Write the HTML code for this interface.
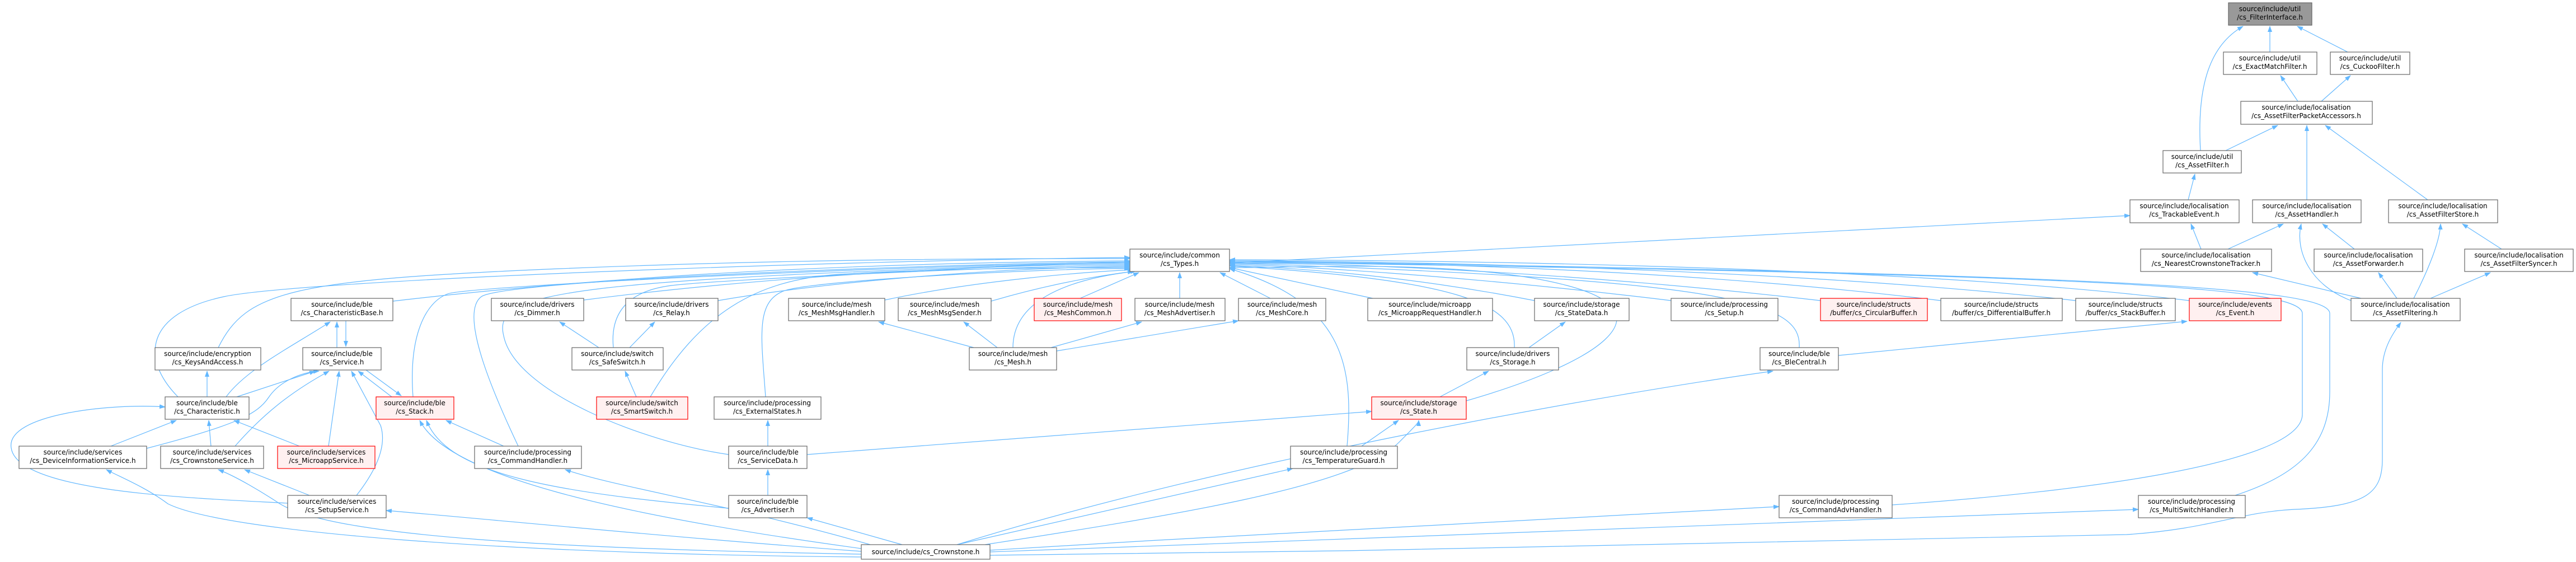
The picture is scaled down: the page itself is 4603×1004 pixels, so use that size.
<!DOCTYPE html>
<html><head><meta charset="utf-8"><style>
html,body{margin:0;padding:0;background:#fff;}
svg{display:block;}
text{font-family:"DejaVu Sans","Liberation Sans",sans-serif;font-size:12px;fill:#000;}
.n{fill:#fff;stroke:#666;stroke-width:1.2;}
.r{fill:#fff0f0;stroke:#ff0000;stroke-width:1.2;}
.g{fill:#999;stroke:#666;stroke-width:1.2;}
.e{fill:none;stroke:#63b8ff;stroke-width:1.2;marker-end:url(#a);}
</style></head><body>
<svg width="4603" height="1004" viewBox="0 0 4603 1004" xmlns="http://www.w3.org/2000/svg">
<defs><marker id="a" markerUnits="userSpaceOnUse" markerWidth="11" markerHeight="8" refX="10" refY="4" orient="auto"><path d="M0,0 L11,4 L0,8 z" fill="#63b8ff"/></marker></defs>
<g>
<path class="e" d="M4056,93 L4056,47"/>
<path class="e" d="M4195,93 L4105,47"/>
<path class="e" d="M3932,269 C3925,150 3950,80 4008,47"/>
<path class="e" d="M4106,181 L4075,135"/>
<path class="e" d="M4148,181 L4200,135"/>
<path class="e" d="M3977,269 L4070,224"/>
<path class="e" d="M4122,357 L4122,224"/>
<path class="e" d="M4338,357 L4155,224"/>
<path class="e" d="M3910,357 L3922,311"/>
<path class="e" d="M3933,445 L3915,400"/>
<path class="e" d="M3981,445 L4080,400"/>
<path class="e" d="M4207,445 L4150,400"/>
<path class="e" d="M4470,445 L4400,400"/>
<path class="e" d="M4201,537 C4130,510 4100,450 4112,400"/>
<path class="e" d="M4313,533 C4340,480 4360,430 4361,400"/>
<path class="e" d="M4219,533 L4025,487"/>
<path class="e" d="M4283,533 L4250,487"/>
<path class="e" d="M4343,533 L4450,487"/>
<path class="e" d="M1769,992 C2500,985 3500,965 3800,955 C3950,945 4000,915 4100,910 C4230,905 4257,880 4257,820 L4257,660 C4257,620 4280,590 4290,576"/>
<path class="e" d="M1769,986 C2500,960 3400,925 3821,910"/>
<path class="e" d="M1769,983 C2300,950 2900,920 3179,905"/>
<path class="e" d="M1710,973 C2200,820 2900,700 3168,663"/>
<path class="e" d="M1760,973 C2100,920 2420,870 2500,790 C2530,760 2535,755 2535,751"/>
<path class="e" d="M1710,973 L2310,837"/>
<path class="e" d="M1612,973 L1442,925"/>
<path class="e" d="M1555,973 C1300,900 1100,870 1010,839"/>
<path class="e" d="M1539,980 C1100,920 800,850 750,751"/>
<path class="e" d="M1302,908 C1000,880 800,850 762,751"/>
<path class="e" d="M1539,985 C1200,960 900,930 690,912"/>
<path class="e" d="M1539,990 C1000,980 600,960 500,900 C470,880 420,850 390,839"/>
<path class="e" d="M1539,995 C900,990 400,950 300,900 C260,870 210,850 190,839"/>
<path class="e" d="M700,709 L640,663"/>
<path class="e" d="M654,661 L717,707"/>
<path class="e" d="M618,573 L618,619"/>
<path class="e" d="M602,621 L602,575"/>
<path class="e" d="M404,709 C440,660 520,620 590,575"/>
<path class="e" d="M370,709 L370,663"/>
<path class="e" d="M423,709 L563,663"/>
<path class="e" d="M198,797 L315,751"/>
<path class="e" d="M262,801 C420,760 460,740 480,710 C500,680 540,665 570,663"/>
<path class="e" d="M377,797 L373,751"/>
<path class="e" d="M420,797 C470,740 520,700 588,663"/>
<path class="e" d="M535,797 L418,751"/>
<path class="e" d="M587,797 L606,663"/>
<path class="e" d="M553,885 L437,839"/>
<path class="e" d="M637,885 C680,830 690,790 680,760 L628,663"/>
<path class="e" d="M514,899 C350,890 30,880 20,800 C10,740 200,720 295,727"/>
<path class="e" d="M900,797 L797,751"/>
<path class="e" d="M1070,621 L1000,575"/>
<path class="e" d="M1125,621 L1170,575"/>
<path class="e" d="M1137,709 L1117,663"/>
<path class="e" d="M1740,621 L1570,575"/>
<path class="e" d="M1782,621 L1722,575"/>
<path class="e" d="M1878,621 L2040,575"/>
<path class="e" d="M1888,627 L2213,573"/>
<path class="e" d="M2732,621 L2797,575"/>
<path class="e" d="M2573,709 L2660,663"/>
<path class="e" d="M2433,797 L2499,751"/>
<path class="e" d="M1372,797 L1372,751"/>
<path class="e" d="M1442,812 L2451,735"/>
<path class="e" d="M1372,885 L1372,839"/>
<path class="e" d="M3285,635 L3908,574"/>
<!-- to Types -->
<path class="e" d="M702,538 C1200,480 1700,468 2019,466"/>
<path class="e" d="M390,621 C440,520 520,500 1000,480 S1900,462 2019,462"/>
<path class="e" d="M318,709 C250,640 260,560 400,530 S1500,465 2019,460"/>
<path class="e" d="M738,709 C730,600 760,540 800,525 S1700,470 2019,470"/>
<path class="e" d="M1043,536 C1400,490 1800,472 2019,472"/>
<path class="e" d="M1283,537 C1500,500 1800,478 2019,476"/>
<path class="e" d="M1096,621 C1090,560 1120,520 1200,510 S1800,475 2019,474"/>
<path class="e" d="M1162,709 C1250,560 1350,500 1500,490 S1900,478 2019,478"/>
<path class="e" d="M1581,536 C1750,500 1950,485 2025,482"/>
<path class="e" d="M1771,538 C1900,500 2000,488 2030,484"/>
<path class="e" d="M1930,533 L2035,487"/>
<path class="e" d="M2108,533 L2108,487"/>
<path class="e" d="M2270,533 L2180,487"/>
<path class="e" d="M1810,621 C1810,540 1900,500 2025,485"/>
<path class="e" d="M1368,709 C1360,600 1350,540 1400,520 S1900,478 2019,480"/>
<path class="e" d="M1302,812 C1150,790 920,700 900,600 C880,520 1000,500 2019,468"/>
<path class="e" d="M926,797 C880,700 820,560 860,530 S1700,470 2019,468"/>
<path class="e" d="M2407,797 C2420,650 2400,540 2197,480"/>
<path class="e" d="M2620,716 C2850,650 2990,560 2800,510 S2300,480 2197,478"/>
<path class="e" d="M2706,621 C2710,540 2600,500 2197,475"/>
<path class="e" d="M2453,533 L2197,478"/>
<path class="e" d="M2742,537 C2500,490 2300,478 2197,474"/>
<path class="e" d="M2986,537 C2600,490 2300,475 2197,472"/>
<path class="e" d="M3253,537 C2800,485 2400,470 2197,470"/>
<path class="e" d="M3468,537 C3000,480 2500,468 2197,468"/>
<path class="e" d="M3709,537 C3200,480 2500,466 2197,466"/>
<path class="e" d="M3912,537 C3400,475 2600,465 2197,464"/>
<path class="e" d="M3215,621 C3220,540 3100,500 2197,470"/>
<path class="e" d="M3381,902 C3700,880 4114,830 4114,740 L4114,560 C4114,510 3700,490 2197,468"/>
<path class="e" d="M3994,885 C4100,850 4163,800 4163,700 L4163,560 C4163,515 3800,490 2197,466"/>
<path class="e" d="M2197,470 L3806,385"/>
</g>
<g>
<rect class="g" x="3982" y="5" width="149" height="40"/><text x="4056" y="20" text-anchor="middle">source/include/util</text><text x="4056" y="35" text-anchor="middle">/cs_FilterInterface.h</text>
<rect class="n" x="3973" y="93" width="167" height="40"/><text x="4056" y="108" text-anchor="middle">source/include/util</text><text x="4056" y="123" text-anchor="middle">/cs_ExactMatchFilter.h</text>
<rect class="n" x="4164" y="93" width="142" height="40"/><text x="4235" y="108" text-anchor="middle">source/include/util</text><text x="4235" y="123" text-anchor="middle">/cs_CuckooFilter.h</text>
<rect class="n" x="4004" y="181" width="235" height="41"/><text x="4121" y="196" text-anchor="middle">source/include/localisation</text><text x="4121" y="211" text-anchor="middle">/cs_AssetFilterPacketAccessors.h</text>
<rect class="n" x="3865" y="269" width="140" height="40"/><text x="3935" y="284" text-anchor="middle">source/include/util</text><text x="3935" y="299" text-anchor="middle">/cs_AssetFilter.h</text>
<rect class="n" x="3806" y="357" width="195" height="41"/><text x="3903" y="372" text-anchor="middle">source/include/localisation</text><text x="3903" y="387" text-anchor="middle">/cs_TrackableEvent.h</text>
<rect class="n" x="4025" y="357" width="194" height="41"/><text x="4122" y="372" text-anchor="middle">source/include/localisation</text><text x="4122" y="387" text-anchor="middle">/cs_AssetHandler.h</text>
<rect class="n" x="4268" y="357" width="195" height="41"/><text x="4365" y="372" text-anchor="middle">source/include/localisation</text><text x="4365" y="387" text-anchor="middle">/cs_AssetFilterStore.h</text>
<rect class="n" x="3825" y="445" width="234" height="40"/><text x="3942" y="460" text-anchor="middle">source/include/localisation</text><text x="3942" y="475" text-anchor="middle">/cs_NearestCrownstoneTracker.h</text>
<rect class="n" x="4135" y="445" width="194" height="40"/><text x="4232" y="460" text-anchor="middle">source/include/localisation</text><text x="4232" y="475" text-anchor="middle">/cs_AssetForwarder.h</text>
<rect class="n" x="4404" y="445" width="194" height="40"/><text x="4501" y="460" text-anchor="middle">source/include/localisation</text><text x="4501" y="475" text-anchor="middle">/cs_AssetFilterSyncer.h</text>
<rect class="n" x="4201" y="533" width="195" height="40"/><text x="4298" y="548" text-anchor="middle">source/include/localisation</text><text x="4298" y="563" text-anchor="middle">/cs_AssetFiltering.h</text>
<rect class="n" x="3468" y="533" width="217" height="40"/><text x="3576" y="548" text-anchor="middle">source/include/structs</text><text x="3576" y="563" text-anchor="middle">/buffer/cs_DifferentialBuffer.h</text>
<rect class="n" x="3709" y="533" width="178" height="40"/><text x="3798" y="548" text-anchor="middle">source/include/structs</text><text x="3798" y="563" text-anchor="middle">/buffer/cs_StackBuffer.h</text>
<rect class="r" x="3912" y="533" width="164" height="40"/><text x="3994" y="548" text-anchor="middle">source/include/events</text><text x="3994" y="563" text-anchor="middle">/cs_Event.h</text>
<rect class="n" x="3821" y="885" width="191" height="40"/><text x="3916" y="900" text-anchor="middle">source/include/processing</text><text x="3916" y="915" text-anchor="middle">/cs_MultiSwitchHandler.h</text>
<rect class="n" x="2019" y="445" width="178" height="40"/><text x="2108" y="460" text-anchor="middle">source/include/common</text><text x="2108" y="475" text-anchor="middle">/cs_Types.h</text>
<rect class="n" x="520" y="533" width="182" height="40"/><text x="611" y="548" text-anchor="middle">source/include/ble</text><text x="611" y="563" text-anchor="middle">/cs_CharacteristicBase.h</text>
<rect class="n" x="277" y="621" width="189" height="40"/><text x="371" y="636" text-anchor="middle">source/include/encryption</text><text x="371" y="651" text-anchor="middle">/cs_KeysAndAccess.h</text>
<rect class="n" x="541" y="621" width="140" height="40"/><text x="611" y="636" text-anchor="middle">source/include/ble</text><text x="611" y="651" text-anchor="middle">/cs_Service.h</text>
<rect class="n" x="878" y="533" width="165" height="40"/><text x="960" y="548" text-anchor="middle">source/include/drivers</text><text x="960" y="563" text-anchor="middle">/cs_Dimmer.h</text>
<rect class="n" x="1118" y="533" width="165" height="40"/><text x="1200" y="548" text-anchor="middle">source/include/drivers</text><text x="1200" y="563" text-anchor="middle">/cs_Relay.h</text>
<rect class="n" x="1022" y="621" width="163" height="40"/><text x="1103" y="636" text-anchor="middle">source/include/switch</text><text x="1103" y="651" text-anchor="middle">/cs_SafeSwitch.h</text>
<rect class="n" x="295" y="709" width="150" height="40"/><text x="370" y="724" text-anchor="middle">source/include/ble</text><text x="370" y="739" text-anchor="middle">/cs_Characteristic.h</text>
<rect class="r" x="672" y="709" width="139" height="40"/><text x="741" y="724" text-anchor="middle">source/include/ble</text><text x="741" y="739" text-anchor="middle">/cs_Stack.h</text>
<rect class="r" x="1066" y="709" width="163" height="40"/><text x="1147" y="724" text-anchor="middle">source/include/switch</text><text x="1147" y="739" text-anchor="middle">/cs_SmartSwitch.h</text>
<rect class="n" x="34" y="797" width="228" height="40"/><text x="148" y="812" text-anchor="middle">source/include/services</text><text x="148" y="827" text-anchor="middle">/cs_DeviceInformationService.h</text>
<rect class="n" x="287" y="797" width="184" height="40"/><text x="379" y="812" text-anchor="middle">source/include/services</text><text x="379" y="827" text-anchor="middle">/cs_CrownstoneService.h</text>
<rect class="r" x="496" y="797" width="174" height="40"/><text x="583" y="812" text-anchor="middle">source/include/services</text><text x="583" y="827" text-anchor="middle">/cs_MicroappService.h</text>
<rect class="n" x="848" y="797" width="191" height="40"/><text x="943" y="812" text-anchor="middle">source/include/processing</text><text x="943" y="827" text-anchor="middle">/cs_CommandHandler.h</text>
<rect class="n" x="514" y="885" width="176" height="40"/><text x="602" y="900" text-anchor="middle">source/include/services</text><text x="602" y="915" text-anchor="middle">/cs_SetupService.h</text>
<rect class="n" x="1409" y="533" width="172" height="40"/><text x="1495" y="548" text-anchor="middle">source/include/mesh</text><text x="1495" y="563" text-anchor="middle">/cs_MeshMsgHandler.h</text>
<rect class="n" x="1605" y="533" width="166" height="40"/><text x="1688" y="548" text-anchor="middle">source/include/mesh</text><text x="1688" y="563" text-anchor="middle">/cs_MeshMsgSender.h</text>
<rect class="r" x="1848" y="533" width="156" height="40"/><text x="1926" y="548" text-anchor="middle">source/include/mesh</text><text x="1926" y="563" text-anchor="middle">/cs_MeshCommon.h</text>
<rect class="n" x="2028" y="533" width="161" height="40"/><text x="2108" y="548" text-anchor="middle">source/include/mesh</text><text x="2108" y="563" text-anchor="middle">/cs_MeshAdvertiser.h</text>
<rect class="n" x="2213" y="533" width="156" height="40"/><text x="2291" y="548" text-anchor="middle">source/include/mesh</text><text x="2291" y="563" text-anchor="middle">/cs_MeshCore.h</text>
<rect class="n" x="1732" y="621" width="156" height="40"/><text x="1810" y="636" text-anchor="middle">source/include/mesh</text><text x="1810" y="651" text-anchor="middle">/cs_Mesh.h</text>
<rect class="n" x="1276" y="709" width="191" height="40"/><text x="1371" y="724" text-anchor="middle">source/include/processing</text><text x="1371" y="739" text-anchor="middle">/cs_ExternalStates.h</text>
<rect class="n" x="1302" y="797" width="140" height="40"/><text x="1372" y="812" text-anchor="middle">source/include/ble</text><text x="1372" y="827" text-anchor="middle">/cs_ServiceData.h</text>
<rect class="n" x="1302" y="885" width="140" height="40"/><text x="1372" y="900" text-anchor="middle">source/include/ble</text><text x="1372" y="915" text-anchor="middle">/cs_Advertiser.h</text>
<rect class="n" x="1539" y="973" width="230" height="26"/><text x="1654" y="990" text-anchor="middle">source/include/cs_Crownstone.h</text>
<rect class="n" x="2306" y="797" width="191" height="40"/><text x="2401" y="812" text-anchor="middle">source/include/processing</text><text x="2401" y="827" text-anchor="middle">/cs_TemperatureGuard.h</text>
<rect class="n" x="2444" y="533" width="223" height="40"/><text x="2555" y="548" text-anchor="middle">source/include/microapp</text><text x="2555" y="563" text-anchor="middle">/cs_MicroappRequestHandler.h</text>
<rect class="n" x="2742" y="533" width="169" height="40"/><text x="2826" y="548" text-anchor="middle">source/include/storage</text><text x="2826" y="563" text-anchor="middle">/cs_StateData.h</text>
<rect class="n" x="2986" y="533" width="191" height="40"/><text x="3081" y="548" text-anchor="middle">source/include/processing</text><text x="3081" y="563" text-anchor="middle">/cs_Setup.h</text>
<rect class="r" x="3253" y="533" width="191" height="40"/><text x="3348" y="548" text-anchor="middle">source/include/structs</text><text x="3348" y="563" text-anchor="middle">/buffer/cs_CircularBuffer.h</text>
<rect class="n" x="2621" y="621" width="164" height="40"/><text x="2703" y="636" text-anchor="middle">source/include/drivers</text><text x="2703" y="651" text-anchor="middle">/cs_Storage.h</text>
<rect class="n" x="3145" y="621" width="140" height="40"/><text x="3215" y="636" text-anchor="middle">source/include/ble</text><text x="3215" y="651" text-anchor="middle">/cs_BleCentral.h</text>
<rect class="r" x="2451" y="709" width="169" height="40"/><text x="2535" y="724" text-anchor="middle">source/include/storage</text><text x="2535" y="739" text-anchor="middle">/cs_State.h</text>
<rect class="n" x="3179" y="885" width="202" height="40"/><text x="3280" y="900" text-anchor="middle">source/include/processing</text><text x="3280" y="915" text-anchor="middle">/cs_CommandAdvHandler.h</text>
</g>
</svg>
</body></html>
